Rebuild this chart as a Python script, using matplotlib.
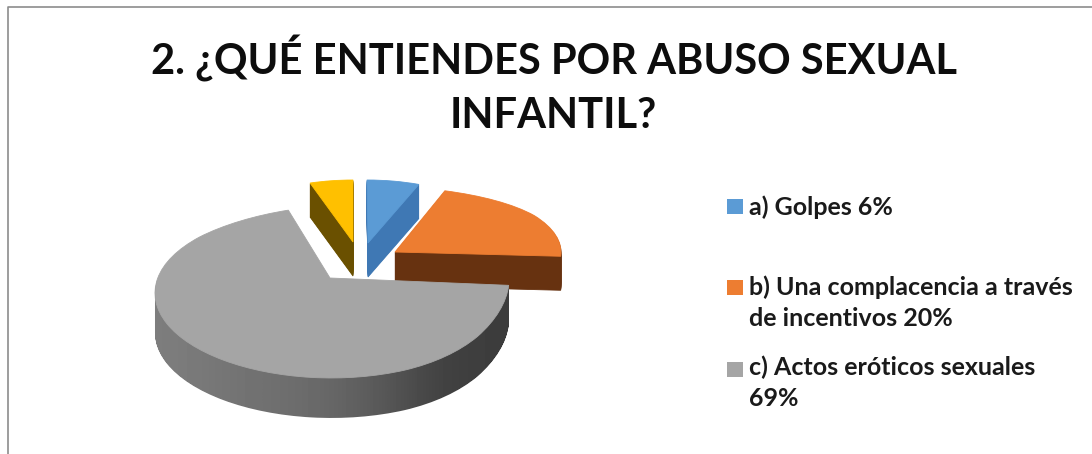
import matplotlib
matplotlib.use('Agg')
import matplotlib.pyplot as plt
import numpy as np
from matplotlib.path import Path
from matplotlib.patches import PathPatch, Rectangle

W, H = 1092, 454

# datos
title_lines = ["2. ¿QUÉ ENTIENDES POR ABUSO SEXUAL", "INFANTIL?"]
shares = [6, 20, 69, 5]
legend_labels = ["a) Golpes 6%", "b) Una complacencia a través\nde incentivos 20%", "c) Actos eróticos sexuales\n69%"]

top_colors = ['#5b9bd5', '#ed7d31', '#a5a5a5', '#ffc000']
side_colors = ['#3f78b4', '#673210', None, '#6a5000']

# cada porción: centro x, centro y, radio x, radio y, profundidad, vértice (px de la imagen)
geom = [
    (367, 243, 141, 63, 34, (368, 243)),
    (393, 252, 168, 68, 34, (395, 252)),
    (332, 293, 177, 85, 40, (330, 278)),
    (353, 242, 139, 62, 34, (353, 242)),
]
# ajuste de perspectiva en las esquinas: esquina unitaria, desplazamiento px, alcance
pulls = {
    1: [((0.37, 0.93), (-10, 2), 0.35)],
    2: [((1.0, -0.06), (0, -13), 0.55), ((-0.31, 0.95), (11, -2), 0.35)],
}
draw_order = [3, 0, 1, 2]

plt.rcParams['font.family'] = ['Lato', 'DejaVu Sans']

fig = plt.figure(figsize=(W / 100, H / 100), dpi=100)
ax = fig.add_axes([0, 0, 1, 1])
wedges, _ = ax.pie(shares, startangle=90, counterclock=False, radius=1)
unit_paths = [w.get_path() for w in wedges]
for w in wedges:
    w.remove()
ax.set_aspect('auto')


def slice_path(i, dy=0):
    p = unit_paths[i]
    cx, cy, rx, ry, depth, apex = geom[i]
    u = p.vertices
    is_apex = np.hypot(u[:, 0], u[:, 1]) < 1e-6
    v = u * [rx, -ry] + [cx, cy + dy]
    for corner, shift, reach in pulls.get(i, []):
        dist = np.hypot(u[:, 0] - corner[0], u[:, 1] - corner[1])
        v += np.outer(np.exp(-(dist / reach) ** 2), shift)
    v[is_apex] = [apex[0], apex[1] + dy]
    return Path(v, p.codes)


for z, i in enumerate(draw_order):
    depth = geom[i][4]
    if side_colors[i] is not None:
        for d in range(depth, 0, -1):
            ax.add_patch(PathPatch(slice_path(i, d), fc=side_colors[i],
                                   ec=side_colors[i], lw=0.6, zorder=2 + z))
    else:
        # pared gris con degradado horizontal
        clip = Path.make_compound_path(*[slice_path(i, d) for d in range(1, depth + 1)])
        grad = np.array([[0.49, 0.46, 0.44, 0.42, 0.38, 0.32, 0.25, 0.24]])
        im = ax.imshow(grad, cmap='gray', vmin=0, vmax=1, extent=(154, 512, 430, 280),
                       aspect='auto', interpolation='bicubic', zorder=2 + z)
        im.set_clip_path(PathPatch(clip, transform=ax.transData))
    ax.add_patch(PathPatch(slice_path(i), fc=top_colors[i], ec=top_colors[i],
                           lw=0.6, zorder=2 + z + 0.5))

# marco de la imagen
ax.plot([8, 8, W], [H, 7, 7], color='#8c8c8c', lw=1.2, zorder=1)

# título
ax.text(554, 58, title_lines[0], ha='center', va='center', fontsize=30, fontweight='bold', color='#0d0d0d')
ax.text(553, 116, title_lines[1], ha='center', va='center', fontsize=30, fontweight='bold', color='#0d0d0d')

# leyenda
leg_y = [206, 287, 369]
leg_text_y = [207, 303, 383]
for i, lab in enumerate(legend_labels):
    ax.add_patch(Rectangle((727, leg_y[i] - 7.5), 16, 15, fc=top_colors[i], ec='none'))
    ax.text(749, leg_text_y[i], lab, ha='left', va='center', fontsize=18, fontweight='bold',
            color='#1a1a1a', linespacing=1.42)

ax.set_xlim(0, W)
ax.set_ylim(H, 0)
ax.axis('off')

fig.savefig('out.png', dpi=100, facecolor='white')
